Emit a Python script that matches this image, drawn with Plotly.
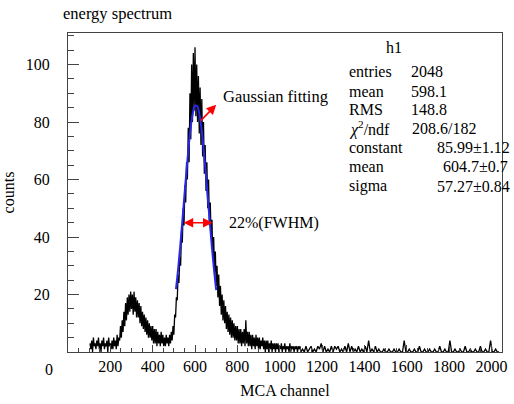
import numpy as np
import plotly.graph_objects as go

# ---------------- data ----------------
# fine-binned part of the spectrum: channels 104..1100, every 4 channels
fine_start, fine_step = 104, 4
fine_counts = [
    3, 1, 4, 0, 5, 2, 3, 1, 4, 2, 5, 1, 3, 0, 4, 2, 5, 1, 3, 2,
    4, 0, 5, 2, 3, 1, 4, 1, 5, 2, 4, 1, 6, 2, 5,                   # 104-240
    4, 9, 5, 11, 7, 14, 9, 17, 11, 19, 13, 20, 14, 21, 15,          # 244-300
    20, 13, 21, 14, 19, 12, 18, 12, 17, 10, 16, 9, 14, 8, 13,       # 304-360
    7, 12, 6, 11, 5, 10, 5, 9, 4, 9, 3, 8, 3, 8, 2,                 # 364-420
    7, 3, 6, 2, 7, 3, 6, 2, 5, 2, 6, 3, 5, 2, 6,                    # 424-480
    3, 7, 4, 9, 6, 13, 12, 19, 18, 27, 24, 33, 30, 42, 38,          # 484-540
    50, 44, 58, 52, 66, 60, 78, 66, 90, 74, 100, 80, 104, 84, 106,  # 544-600
    82, 100, 80, 96, 76, 92, 72, 88, 68, 80, 62, 72, 56, 66, 50,    # 604-660
    60, 44, 52, 40, 46, 32, 40, 28, 35, 23, 30, 19, 27, 16, 23,     # 664-720
    13, 20, 11, 18, 10, 16, 8, 14, 7, 13, 6, 12, 5, 11, 5,          # 724-780
    10, 4, 9, 4, 9, 3, 8, 3, 8, 2, 7, 3, 8, 2, 11,                  # 784-840
    3, 7, 2, 7, 2, 6, 1, 6, 2, 5, 1, 6, 2, 5, 1,                    # 844-900
    5, 1, 4, 2, 5, 1, 4, 0, 4, 1, 4, 0, 3, 1, 4,                    # 904-960
    0, 3, 1, 3, 0, 3, 1, 3, 0, 2, 1, 3, 0, 2, 1,                    # 964-1020
    3, 0, 2, 1, 2, 0, 3, 0, 2, 1, 2, 0, 2, 1, 2, 0, 2, 1, 2, 0,     # 1024-1100
]
# sparse tail: channels 1108..2036, every 8 channels
tail_start, tail_step = 1108, 8
tail_counts = [
    1, 0, 2, 0, 1, 2, 0, 1, 0, 2,
    1, 3, 0, 2, 0, 1, 0, 2, 0, 2,
    1, 2, 0, 1, 0, 2, 0, 3, 0, 2,
    0, 1, 0, 2, 0, 1, 0, 2, 0, 4,
    0, 1, 0, 2, 0, 1, 0, 0, 1, 0,
    0, 1, 0, 0, 1, 0, 0, 1, 0, 0,
    4, 0, 0, 1, 0, 0, 1, 0, 0, 2,
    0, 0, 1, 0, 0, 1, 0, 0, 1, 0,
    0, 2, 0, 0, 1, 0, 0, 4, 0, 0,
    1, 0, 0, 1, 0, 0, 2, 0, 0, 1,
    0, 0, 1, 0, 0, 2, 0, 0, 1, 0,
    0, 4, 0, 0, 1, 0, 0,
]

fit_channels = [510, 520, 530, 540, 550, 560, 570, 580, 590, 600,
                610, 620, 630, 640, 650, 660, 670, 680, 690, 700]
fit_counts = [21.9, 28.8, 36.7, 45.4, 54.5, 63.4, 71.6, 78.4, 83.2, 85.7,
              85.6, 83.0, 78.0, 71.1, 62.9, 54.0, 44.9, 36.2, 28.4, 21.5]

x_tick_values = [200, 400, 600, 800, 1000, 1200, 1400, 1600, 1800, 2000]
y_tick_values = [20, 40, 60, 80, 100]

stat_labels = ["entries", "mean", "RMS", "<i>χ</i><sup>2</sup>/ndf",
               "constant", "mean", "sigma"]
stat_values = ["2048", "598.1", "148.8", "208.6/182",
               "85.99±1.12", "604.7±0.7", "57.27±0.84"]

# ---------------- figure ----------------
channels = np.concatenate([
    fine_start + fine_step * np.arange(len(fine_counts)),
    tail_start + tail_step * np.arange(len(tail_counts)),
])
counts = list(fine_counts) + list(tail_counts)

FONT = "Liberation Serif, Times New Roman, serif"

fig = go.Figure()
fig.add_trace(go.Scatter(x=channels, y=counts, mode="lines",
                         line=dict(color="black", width=1.3),
                         hoverinfo="skip", showlegend=False))
fig.add_trace(go.Scatter(x=fit_channels, y=fit_counts, mode="lines",
                         line=dict(color="rgb(40,40,235)", width=2, shape="spline"),
                         hoverinfo="skip", showlegend=False))

fig.update_layout(
    width=514, height=404,
    margin=dict(l=68, r=7, t=33, b=52),
    paper_bgcolor="white", plot_bgcolor="white",
    font=dict(family=FONT, size=16, color="black"),
    showlegend=False,
)

fig.update_xaxes(
    range=[0, 2050],
    tickmode="array", tickvals=x_tick_values,
    ticks="inside", ticklen=7, tickcolor="#444", tickwidth=1,
    minor=dict(tickmode="linear", tick0=0, dtick=50, ticks="inside",
               ticklen=4, tickcolor="#444", tickwidth=1),
    showgrid=False, zeroline=False,
    showline=True, mirror=True, linecolor="#444", linewidth=1,
    tickfont=dict(family=FONT, size=16),
    title=dict(text="MCA channel", font=dict(family=FONT, size=16), standoff=10),
)
fig.update_yaxes(
    range=[0, 111],
    tickmode="array", tickvals=y_tick_values,
    ticks="inside", ticklen=11, tickcolor="#444", tickwidth=1,
    minor=dict(tickmode="linear", tick0=0, dtick=5, ticks="inside",
               ticklen=6, tickcolor="#444", tickwidth=1),
    showgrid=False, zeroline=False,
    showline=True, mirror=True, linecolor="#444", linewidth=1,
    tickfont=dict(family=FONT, size=16),
    ticklabelstandoff=14,
    title=dict(text="counts", font=dict(family=FONT, size=16), standoff=8),
)

# title
fig.add_annotation(text="energy spectrum", xref="paper", yref="paper",
                   x=-0.016, y=1.0, xanchor="left", yanchor="bottom", yshift=8,
                   showarrow=False, font=dict(family=FONT, size=16.5))
# "0" label of x-axis
fig.add_annotation(text="0", xref="paper", yref="paper", x=-0.043, y=0,
                   xanchor="center", yanchor="top", yshift=-7,
                   showarrow=False, font=dict(family=FONT, size=16))

# stats box
fig.add_annotation(text="h1", xref="paper", yref="paper", x=0.75, y=0.955,
                   xanchor="center", yanchor="middle", showarrow=False,
                   font=dict(family=FONT, size=16))
row_y = [0.878, 0.818, 0.760, 0.700, 0.640, 0.580, 0.520]
value_x = [0.786, 0.786, 0.786, 0.788, 0.846, 0.860, 0.846]
for lab, val, yy, vx in zip(stat_labels, stat_values, row_y, value_x):
    fig.add_annotation(text=lab, xref="paper", yref="paper", x=0.643, y=yy,
                       xanchor="left", yanchor="middle", showarrow=False,
                       font=dict(family=FONT, size=16))
    fig.add_annotation(text=val, xref="paper", yref="paper", x=vx, y=yy,
                       xanchor="left", yanchor="middle", showarrow=False,
                       font=dict(family=FONT, size=16))

# Gaussian fitting arrow + text
fig.add_annotation(x=700, y=86, ax=620, ay=80, xref="x", yref="y",
                   axref="x", ayref="y", text="", showarrow=True,
                   arrowhead=2, arrowsize=1.2, arrowwidth=1.6, arrowcolor="red")
fig.add_annotation(text="Gaussian fitting", x=722, y=89, xref="x", yref="y",
                   xanchor="left", yanchor="middle", showarrow=False,
                   font=dict(family=FONT, size=16.5))
# FWHM double arrow + text
fig.add_annotation(x=683, y=45, ax=539, ay=45, xref="x", yref="y",
                   axref="x", ayref="y", text="", showarrow=True,
                   arrowhead=2, startarrowhead=2, arrowside="end+start",
                   arrowsize=1.2, startarrowsize=1.2, arrowwidth=1.6,
                   arrowcolor="red")
fig.add_annotation(text="22%(FWHM)", x=752, y=45, xref="x", yref="y",
                   xanchor="left", yanchor="middle", showarrow=False,
                   font=dict(family=FONT, size=16))

fig.write_html("out.html", config={"displayModeBar": False},
               post_script="document.body.style.margin='0';")
